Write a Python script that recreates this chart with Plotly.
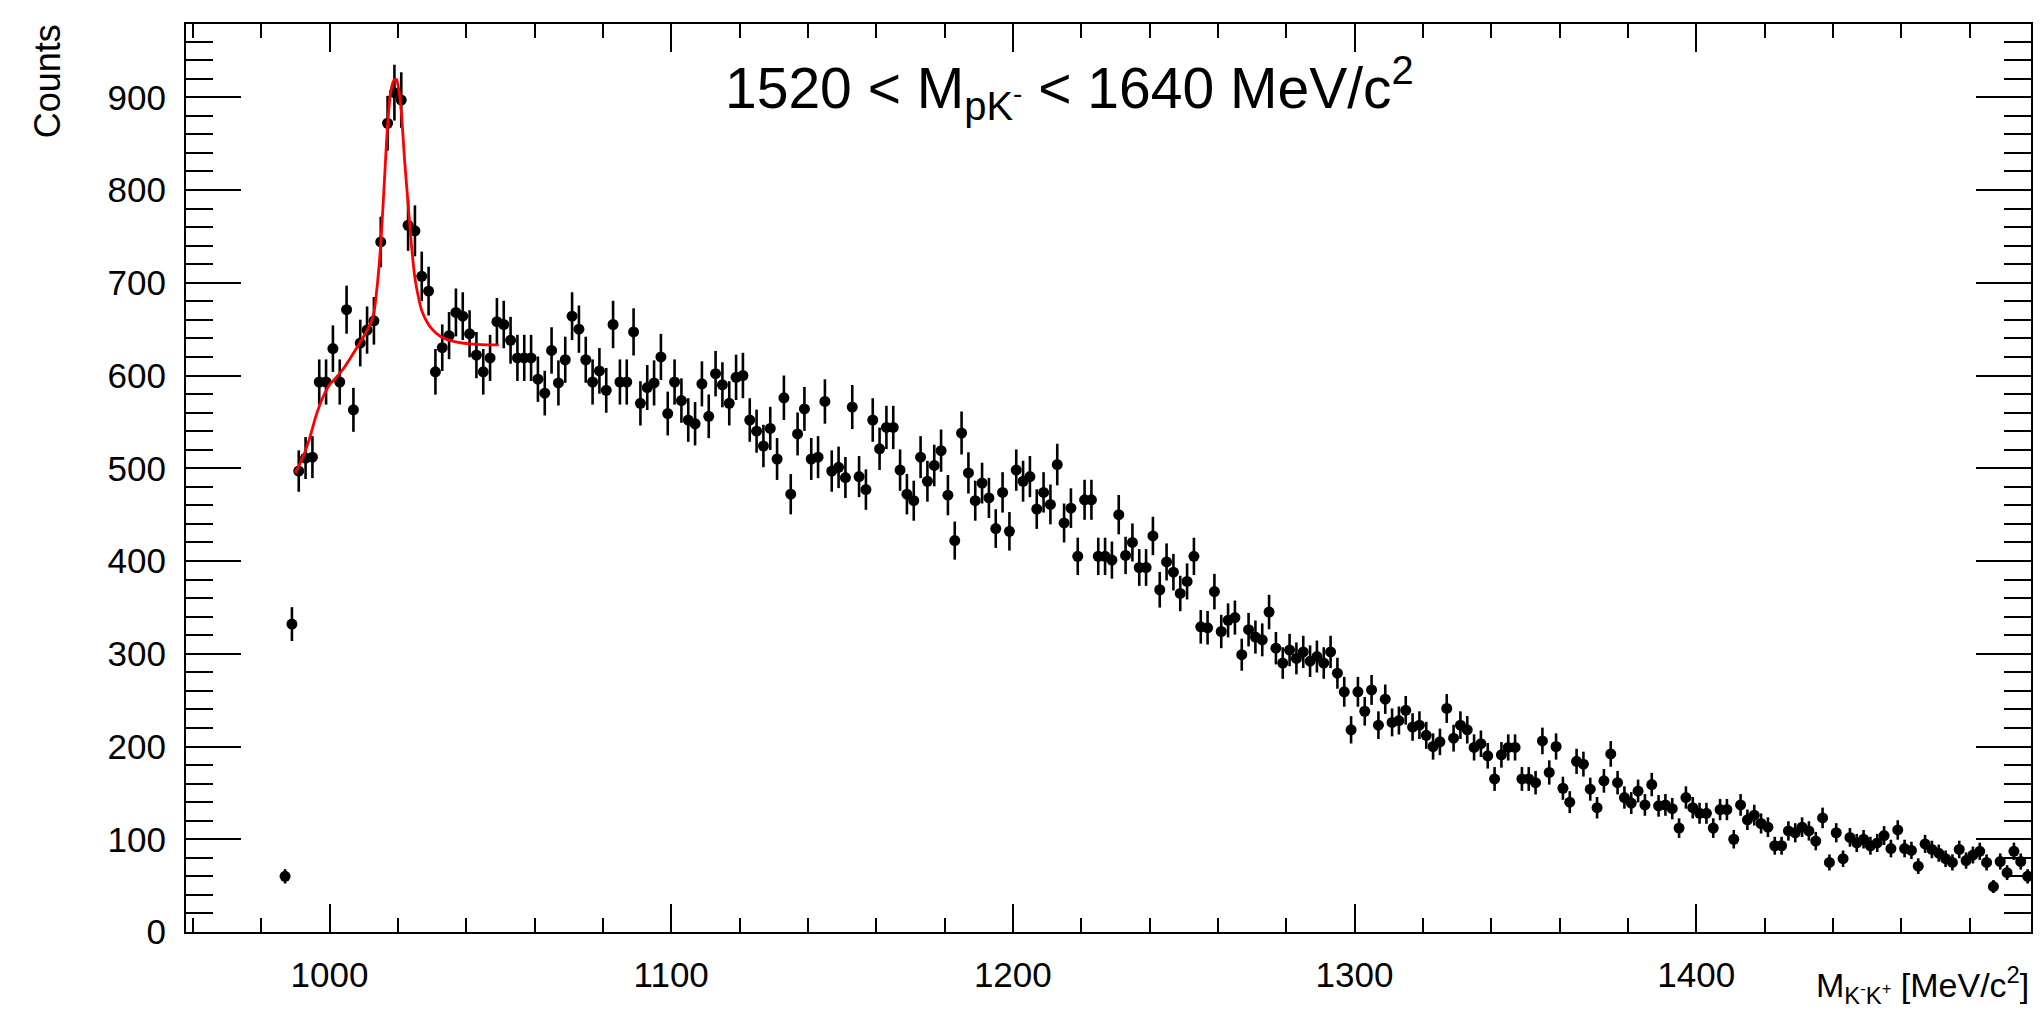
import plotly.graph_objects as go
import numpy as np

# Histogram bin centres (2 MeV bins) and counts
mass = list(range(987, 1498, 2))
counts = [
    # 987 - 1067
    60, 332, 497, 511, 512, 593, 593, 629, 593, 671, 563, 635, 649, 659, 744, 872, 905, 897,
    762, 756, 707, 691, 604, 630, 643, 668, 664, 645, 622, 604, 619, 658, 655, 638, 619, 619,
    619, 596, 581, 627, 592,
    # 1069 - 1153
    617, 664, 650, 617, 593, 605, 584, 655, 593, 593, 647, 570, 587, 592, 620, 559, 593, 573,
    552, 548, 591, 556, 602, 590, 570, 598, 600, 552, 540, 524, 543, 510, 576, 472, 537, 564,
    510, 512, 572, 497, 501, 490, 566,
    # 1155 - 1239
    491, 477, 552, 521, 544, 544, 498, 472, 465, 512, 486, 503, 519, 471, 422, 538, 495, 465,
    484, 468, 435, 474, 432, 498, 486, 491, 456, 474, 461, 504, 441, 457, 405, 466, 466, 405,
    405, 401, 450, 406, 420, 393, 393,
    # 1241 - 1323
    427, 369, 399, 388, 365, 378, 405, 329, 328, 367, 324, 336, 339, 299, 326, 318, 315, 345,
    306, 290, 304, 295, 302, 292, 297, 290, 302, 279, 259, 218, 259, 238, 261, 223, 251, 226,
    228, 239, 221, 223, 212, 200,
    # 1325 - 1415
    205, 241, 209, 223, 218, 199, 203, 190, 165, 191, 199, 199, 165, 165, 161, 206, 172, 200,
    155, 140, 184, 181, 154, 134, 163, 192, 161, 145, 139, 152, 137, 159, 136, 137, 133, 112,
    145, 134, 128, 128, 112, 132, 132, 100, 137, 121,
    # 1417 - 1497
    126, 117, 113, 93, 93, 109, 107, 113, 109, 98, 123, 75, 107, 79, 102, 96, 100, 93,
    96, 104, 90, 110, 90, 88, 71, 95, 89, 85, 79, 75, 89, 77, 83, 87, 75, 49,
    76, 64, 87, 76, 60,
]
errors = list(np.sqrt(np.array(counts, dtype=float)))

# Fit curve
fit_mass = [990.0, 992.0, 994.0, 996.0, 998.0, 1000.0, 1002.0, 1004.0, 1006.0, 1008.0,
            1010.0, 1012.0, 1013.0, 1014.0, 1015.0, 1016.0, 1017.0, 1018.0, 1019.0, 1019.6,
            1020.2, 1021.0, 1022.0, 1023.0, 1024.0, 1025.0, 1026.0, 1027.0, 1028.5, 1030.0,
            1032.5, 1036.0, 1041.0, 1046.0, 1049.5]
fit_counts = [495, 510, 530, 556, 576, 590, 598, 607, 618, 630,
              642, 656, 668, 698, 742, 805, 870, 908, 919, 919,
              910, 885, 831, 785, 740, 705, 685, 670, 658, 650,
              642, 637, 634, 633, 633]

x_range = [958, 1498]
y_range = [0, 979]

FONT = "Liberation Sans, Arial, Helvetica, sans-serif"

fig = go.Figure()
fig.add_trace(go.Scatter(
    x=mass, y=counts, mode="markers",
    marker=dict(color="black", size=11, symbol="circle"),
    error_y=dict(type="data", array=errors, visible=True, color="black", thickness=2.6, width=0),
    error_x=dict(type="constant", value=1, visible=True, color="black", thickness=2.6, width=0),
    showlegend=False,
))
fig.add_trace(go.Scatter(
    x=fit_mass, y=fit_counts, mode="lines",
    line=dict(color="#ff0000", width=2.8, shape="spline", smoothing=0.6),
    showlegend=False,
))

axis_common = dict(
    showline=True, linecolor="black", linewidth=2, mirror="allticks",
    ticks="inside", tickcolor="black", tickwidth=1.5,
    showgrid=False, zeroline=False,
    tickfont=dict(family=FONT, size=35, color="black"),
)
fig.update_xaxes(
    range=x_range, tick0=1000, dtick=100, ticklen=28,
    minor=dict(ticks="inside", ticklen=14, dtick=20, tick0=1000, tickcolor="black", tickwidth=1.5, showgrid=False),
    ticklabelstandoff=11,
    **axis_common,
)
fig.update_yaxes(
    range=y_range, tick0=0, dtick=100, ticklen=55,
    minor=dict(ticks="inside", ticklen=27, dtick=20, tick0=0, tickcolor="black", tickwidth=1.5, showgrid=False),
    ticklabelstandoff=11,
    **axis_common,
)

fig.add_annotation(
    text="1520 &lt; M<sub>pK<sup>-</sup></sub> &lt; 1640 MeV/c<sup>2</sup>",
    xref="paper", yref="paper", x=0.4791, y=0.929, xanchor="center", yanchor="middle",
    showarrow=False, font=dict(family=FONT, size=57, color="black"),
)
fig.add_annotation(
    text="M<sub>K<sup>-</sup>K<sup>+</sup></sub> [MeV/c<sup>2</sup>]",
    xref="paper", yref="paper", x=1.0, y=-0.058, xanchor="right", yanchor="middle",
    showarrow=False, font=dict(family=FONT, size=34, color="black"),
)
fig.add_annotation(
    text="Counts",
    xref="paper", yref="paper", x=-0.0753, y=0.937, xanchor="center", yanchor="middle",
    textangle=-90, showarrow=False, font=dict(family=FONT, size=36, color="black"),
)

fig.update_layout(
    width=2040, height=1016,
    margin=dict(l=186, r=7, t=24, b=84, pad=0),
    plot_bgcolor="white", paper_bgcolor="white",
)

fig.write_html("out.html")
